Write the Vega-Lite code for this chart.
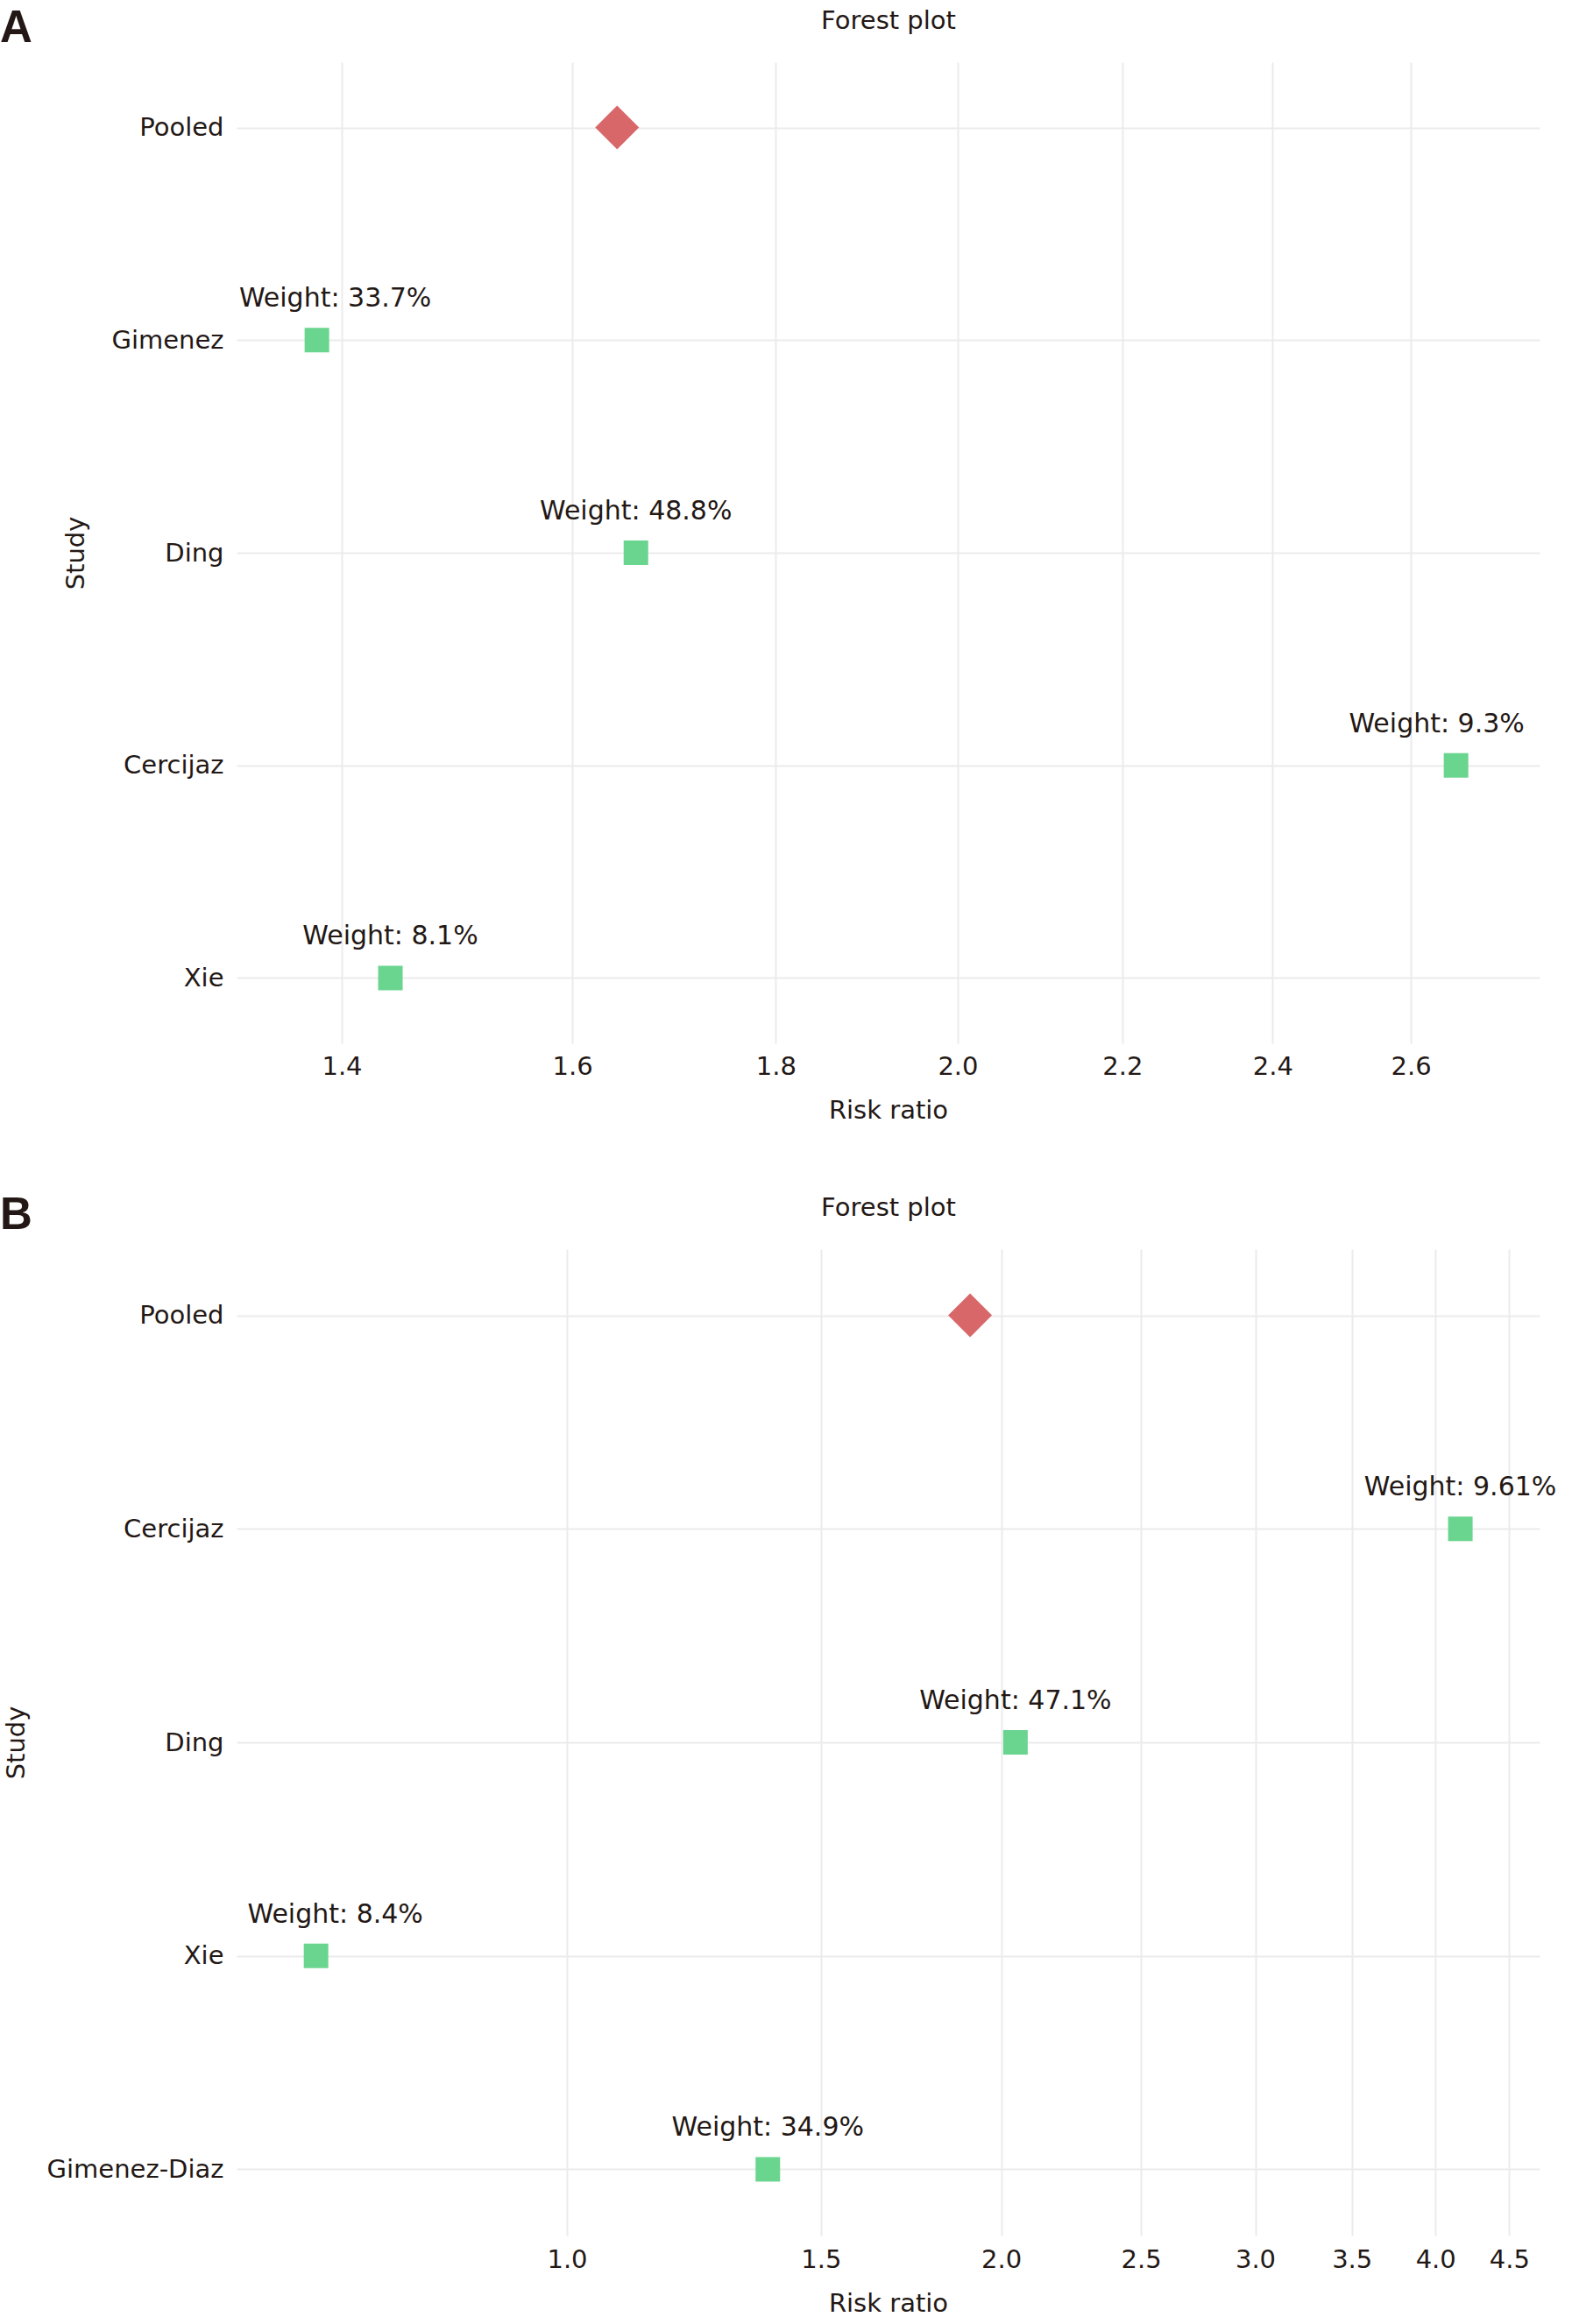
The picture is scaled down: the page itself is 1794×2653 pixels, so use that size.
{
  "$schema": "https://vega.github.io/schema/vega-lite/v6.json",
  "background": "white",
  "padding": {"left": 0, "top": 7, "right": 0, "bottom": 0},
  "spacing": 80,
  "config": {
    "font": "DejaVu Sans",
    "view": {"stroke": null},
    "axis": {
      "labelFont": "DejaVu Sans",
      "titleFont": "DejaVu Sans",
      "labelColor": "#231815",
      "titleColor": "#231815",
      "labelFontSize": 29,
      "titleFontSize": 29,
      "titleFontWeight": "normal",
      "labelLimit": 400,
      "ticks": false,
      "tickSize": 0,
      "domain": false,
      "gridColor": "#EBEBEB",
      "gridWidth": 2
    },
    "text": {"font": "DejaVu Sans", "fontSize": 30, "color": "#231815"}
  },
  "datasets": {
    "studiesA": [
      {"study": "Pooled", "rr": 1.642, "label": ""},
      {"study": "Gimenez", "rr": 1.380, "label": "Weight: 33.7%"},
      {"study": "Ding", "rr": 1.660, "label": "Weight: 48.8%"},
      {"study": "Cercijaz", "rr": 2.669, "label": "Weight: 9.3%"},
      {"study": "Xie", "rr": 1.440, "label": "Weight: 8.1%"}
    ],
    "studiesB": [
      {"study": "Pooled", "rr": 1.903, "label": ""},
      {"study": "Cercijaz", "rr": 4.162, "label": "Weight: 9.61%"},
      {"study": "Ding", "rr": 2.046, "label": "Weight: 47.1%"},
      {"study": "Xie", "rr": 0.670, "label": "Weight: 8.4%"},
      {"study": "Gimenez-Diaz", "rr": 1.378, "label": "Weight: 34.9%"}
    ]
  },
  "vconcat": [
    {
      "width": 1487,
      "height": 1120,
      "title": {"text": "A", "anchor": "start", "frame": "group", "dx": -270, "offset": -90, "baseline": "alphabetic", "font": "Liberation Sans Narrow, Liberation Sans", "fontSize": 51, "fontWeight": "bold", "color": "#231815"},
      "data": {"name": "studiesA"},
      "encoding": {
        "y": {
          "field": "study", "type": "nominal",
          "sort": ["Pooled", "Gimenez", "Ding", "Cercijaz", "Xie"],
          "scale": {"type": "point", "padding": 0.307},
          "axis": {"title": "Study", "labelPadding": 15, "titlePadding": 25, "grid": true}
        }
      },
      "layer": [
        {
          "transform": [{"filter": "datum.study !== 'Pooled'"}],
          "mark": {"type": "point", "shape": "square", "filled": true, "size": 784, "color": "#6AD58F", "opacity": 1},
          "encoding": {
            "x": {"field": "rr", "type": "quantitative",
              "scale": {"type": "log", "domain": [1.3173, 2.8013], "nice": false, "zero": false},
              "axis": {"orient": "bottom", "title": "Risk ratio", "values": [1.4, 1.6, 1.8, 2.0, 2.2, 2.4, 2.6], "format": ".1f", "grid": true, "labelPadding": 12, "titlePadding": 21}}
          }
        },
        {
          "transform": [{"filter": "datum.study === 'Pooled'"}],
          "mark": {"type": "point", "shape": "diamond", "filled": true, "size": 2500, "color": "#D8676A", "opacity": 1},
          "encoding": {
            "x": {"field": "rr", "type": "quantitative",
              "scale": {"type": "log", "domain": [1.3173, 2.8013], "nice": false, "zero": false},
              "axis": {"orient": "top", "title": "Forest plot", "labels": false, "grid": false, "titlePadding": 33}}
          }
        },
        {
          "transform": [{"filter": "datum.study === 'Ding' || datum.study === 'Xie'"}],
          "mark": {"type": "text", "baseline": "alphabetic", "align": "center", "dy": -38},
          "encoding": {
            "x": {"field": "rr", "type": "quantitative", "scale": {"type": "log", "domain": [1.3173, 2.8013], "nice": false, "zero": false}, "axis": null},
            "text": {"field": "label"}
          }
        },
        {
          "transform": [{"filter": "datum.study === 'Gimenez'"}],
          "mark": {"type": "text", "baseline": "alphabetic", "align": "center", "dy": -38, "dx": 21},
          "encoding": {
            "x": {"field": "rr", "type": "quantitative", "scale": {"type": "log", "domain": [1.3173, 2.8013], "nice": false, "zero": false}, "axis": null},
            "text": {"field": "label"}
          }
        },
        {
          "transform": [{"filter": "datum.study === 'Cercijaz'"}],
          "mark": {"type": "text", "baseline": "alphabetic", "align": "center", "dy": -38, "dx": -22},
          "encoding": {
            "x": {"field": "rr", "type": "quantitative", "scale": {"type": "log", "domain": [1.3173, 2.8013], "nice": false, "zero": false}, "axis": null},
            "text": {"field": "label"}
          }
        }
      ],
      "resolve": {"axis": {"x": "independent"}}
    },
    {
      "width": 1487,
      "height": 1126,
      "title": {"text": "B", "anchor": "start", "frame": "group", "dx": -270, "offset": -90, "baseline": "alphabetic", "font": "Liberation Sans Narrow, Liberation Sans", "fontSize": 51, "fontWeight": "bold", "color": "#231815"},
      "data": {"name": "studiesB"},
      "encoding": {
        "y": {
          "field": "study", "type": "nominal",
          "sort": ["Pooled", "Cercijaz", "Ding", "Xie", "Gimenez-Diaz"],
          "scale": {"type": "point", "padding": 0.31},
          "axis": {"title": "Study", "labelPadding": 15, "titlePadding": 37, "grid": true}
        }
      },
      "layer": [
        {
          "transform": [{"filter": "datum.study !== 'Pooled'"}],
          "mark": {"type": "point", "shape": "square", "filled": true, "size": 784, "color": "#6AD58F", "opacity": 1},
          "encoding": {
            "x": {"field": "rr", "type": "quantitative",
              "scale": {"type": "log", "domain": [0.5902, 4.723], "nice": false, "zero": false},
              "axis": {"orient": "bottom", "title": "Risk ratio", "values": [1.0, 1.5, 2.0, 2.5, 3.0, 3.5, 4.0, 4.5], "format": ".1f", "grid": true, "labelPadding": 13, "titlePadding": 21}}
          }
        },
        {
          "transform": [{"filter": "datum.study === 'Pooled'"}],
          "mark": {"type": "point", "shape": "diamond", "filled": true, "size": 2500, "color": "#D8676A", "opacity": 1},
          "encoding": {
            "x": {"field": "rr", "type": "quantitative",
              "scale": {"type": "log", "domain": [0.5902, 4.723], "nice": false, "zero": false},
              "axis": {"orient": "top", "title": "Forest plot", "labels": false, "grid": false, "titlePadding": 33}}
          }
        },
        {
          "transform": [{"filter": "datum.study !== 'Pooled' && datum.study !== 'Xie'"}],
          "mark": {"type": "text", "baseline": "alphabetic", "align": "center", "dy": -38},
          "encoding": {
            "x": {"field": "rr", "type": "quantitative", "scale": {"type": "log", "domain": [0.5902, 4.723], "nice": false, "zero": false}, "axis": null},
            "text": {"field": "label"}
          }
        },
        {
          "transform": [{"filter": "datum.study === 'Xie'"}],
          "mark": {"type": "text", "baseline": "alphabetic", "align": "center", "dy": -38, "dx": 22},
          "encoding": {
            "x": {"field": "rr", "type": "quantitative", "scale": {"type": "log", "domain": [0.5902, 4.723], "nice": false, "zero": false}, "axis": null},
            "text": {"field": "label"}
          }
        }
      ],
      "resolve": {"axis": {"x": "independent"}}
    }
  ]
}
